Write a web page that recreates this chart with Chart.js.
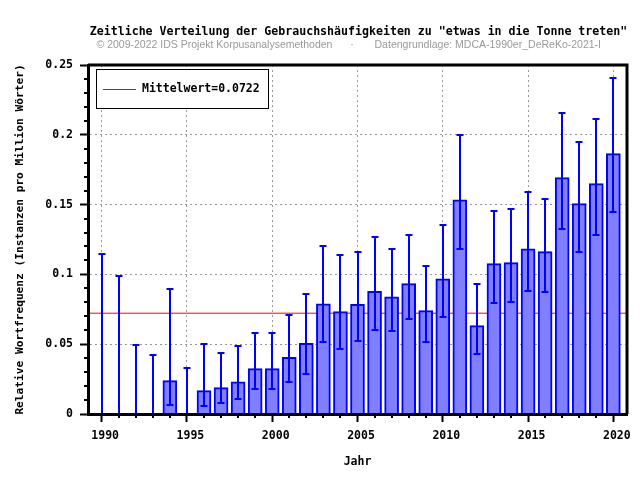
<!DOCTYPE html>
<html>
<head>
<meta charset="utf-8">
<script src="https://cdn.jsdelivr.net/npm/chart.js@4"></script>
<style>
  html, body { margin: 0; padding: 0; background: #fff; }
</style>
</head>
<body>
<canvas id="chart" width="640" height="480"></canvas>
<script>
// data
const years = [1990, 1991, 1992, 1993, 1994, 1995, 1996, 1997, 1998, 1999, 2000,
  2001, 2002, 2003, 2004, 2005, 2006, 2007, 2008, 2009, 2010,
  2011, 2012, 2013, 2014, 2015, 2016, 2017, 2018, 2019, 2020];
const frequency = [0, 0, 0, 0, 0.0239, 0, 0.0167, 0.0189, 0.0231, 0.0325, 0.0325,
  0.0406, 0.0506, 0.0790, 0.0733, 0.0786, 0.0879, 0.0840, 0.0934, 0.0740, 0.0969,
  0.1535, 0.0633, 0.1077, 0.1084, 0.1184, 0.1163, 0.1693, 0.1507, 0.1650, 0.1865];
const upper = [0.1144, 0.0990, 0.0497, 0.0425, 0.0898, 0.0332, 0.0504, 0.0439, 0.0489, 0.0582, 0.0582,
  0.0711, 0.0862, 0.1206, 0.1141, 0.1160, 0.1270, 0.1182, 0.1285, 0.1060, 0.1356,
  0.2001, 0.0934, 0.1456, 0.1470, 0.1593, 0.1542, 0.2158, 0.1951, 0.2115, 0.2409];
const lower = [0, 0, 0, 0, 0.0067, 0, 0.0060, 0.0081, 0.0110, 0.0181, 0.0181,
  0.0232, 0.0289, 0.0518, 0.0468, 0.0525, 0.0604, 0.0597, 0.0683, 0.0518, 0.0697,
  0.1182, 0.0432, 0.0797, 0.0804, 0.0883, 0.0876, 0.1328, 0.1163, 0.1285, 0.1449];
const meanValue = 0.0722;
const xTicks = [1990, 1995, 2000, 2005, 2010, 2015, 2020];
const yTicks = [0, 0.05, 0.1, 0.15, 0.2, 0.25];

const xMin = 1989.2, xMax = 2020.8;
const mono = 'DejaVu Sans Mono';

const titleText = 'Zeitliche Verteilung der Gebrauchshäufigkeiten zu "etwas in die Tonne treten"';
const creditLeft = '© 2009-2022 IDS Projekt Korpusanalysemethoden';
const creditRight = 'Datengrundlage: MDCA-1990er_DeReKo-2021-I';
const legendText = 'Mittelwert=' + meanValue;

const extras = {
  id: 'extras',
  afterDatasetsDraw(chart) {
    const { ctx, scales: { x, y } } = chart;
    ctx.save();
    ctx.strokeStyle = '#0000ff';
    ctx.lineWidth = 2;
    years.forEach((yr, i) => {
      const px = Math.round(x.getPixelForValue(yr));
      const top = Math.round(y.getPixelForValue(upper[i]));
      const bot = Math.round(y.getPixelForValue(lower[i]));
      ctx.beginPath();
      ctx.moveTo(px, top); ctx.lineTo(px, bot);
      ctx.moveTo(px - 3.5, top); ctx.lineTo(px + 3.5, top);
      ctx.moveTo(px - 3.5, bot); ctx.lineTo(px + 3.5, bot);
      ctx.stroke();
    });
    ctx.restore();
  },
  afterDraw(chart) {
    const { ctx, chartArea: a, scales: { x, y } } = chart;
    ctx.save();
    // top and right frame
    ctx.strokeStyle = '#000';
    ctx.lineWidth = 3;
    ctx.beginPath();
    ctx.moveTo(a.left, a.top); ctx.lineTo(a.right, a.top); ctx.lineTo(a.right, a.bottom);
    ctx.stroke();

    // minor ticks
    ctx.lineWidth = 2;
    ctx.beginPath();
    years.forEach(yr => {
      if (yr % 5 === 0) return;
      const px = Math.round(x.getPixelForValue(yr));
      ctx.moveTo(px, a.bottom); ctx.lineTo(px, a.bottom + 4);
    });
    for (let k = 1; k < 25; k++) {
      if (k % 5 === 0) continue;
      const py = Math.round(y.getPixelForValue(k / 100));
      ctx.moveTo(a.left - 4, py); ctx.lineTo(a.left, py);
    }
    ctx.stroke();

    // legend
    ctx.lineWidth = 1;
    ctx.fillStyle = '#fff';
    ctx.fillRect(96.5, 69.5, 172, 39);
    ctx.strokeRect(96.5, 69.5, 172, 39);
    ctx.strokeStyle = '#ff0000';
    ctx.beginPath();
    ctx.moveTo(103, 89.5); ctx.lineTo(136, 89.5);
    ctx.stroke();
    ctx.fillStyle = '#000';
    ctx.font = 'bold 11.5px "' + mono + '"';
    ctx.textBaseline = 'middle';
    ctx.textAlign = 'left';
    ctx.fillText(legendText, 142, 89);

    // title and credit line
    ctx.font = 'bold 11.6px "' + mono + '"';
    ctx.textAlign = 'center';
    ctx.fillText(titleText, 358.5, 32);
    ctx.fillStyle = '#999';
    ctx.font = '10.5px "Liberation Sans"';
    ctx.textAlign = 'left';
    ctx.fillText(creditLeft, 96.5, 45);
    ctx.textAlign = 'center';
    ctx.fillText('·', 352, 45);
    ctx.textAlign = 'right';
    ctx.fillText(creditRight, 601, 45);
    ctx.restore();
  }
};

const tickFont = { family: mono, size: 11.5, weight: 'bold' };

new Chart(document.getElementById('chart'), {
  type: 'bar',
  data: {
    datasets: [
      {
        type: 'bar',
        label: 'Relative Wortfrequenz',
        data: years.map((yr, i) => ({ x: yr, y: frequency[i] })),
        backgroundColor: '#8080ff',
        borderColor: '#0000ff',
        borderWidth: 2,
        barThickness: 14,
        order: 1
      },
      {
        type: 'line',
        label: legendText,
        data: [{ x: xMin, y: meanValue }, { x: xMax, y: meanValue }],
        borderColor: '#ff0000',
        borderWidth: 1,
        pointRadius: 0,
        order: 2
      }
    ]
  },
  options: {
    responsive: false,
    animation: false,
    layout: { padding: { top: 65, right: 13, left: 0, bottom: 0 } },
    plugins: {
      legend: { display: false },
      tooltip: { enabled: false }
    },
    scales: {
      x: {
        type: 'linear',
        min: xMin,
        max: xMax,
        offset: false,
        afterBuildTicks: s => { s.ticks = xTicks.map(v => ({ value: v })); },
        afterFit: s => { s.height = 66; },
        grid: { offset: false, color: '#999', lineWidth: 1, tickLength: 8, tickColor: '#000', tickWidth: 2 },
        border: { display: true, color: '#000', width: 3, dash: [2, 3], z: 1 },
        ticks: { font: tickFont, color: '#000', padding: 7, labelOffset: 3.5, maxRotation: 0, autoSkip: false, callback: v => String(v) },
        title: { display: true, text: 'Jahr', font: tickFont, color: '#000', padding: { top: 4, bottom: 11 } }
      },
      y: {
        min: 0,
        max: 0.25,
        afterBuildTicks: s => { s.ticks = yTicks.map(v => ({ value: v })); },
        afterFit: s => { s.width = 88; },
        grid: { color: '#999', lineWidth: 1, tickLength: 8, tickColor: '#000', tickWidth: 2 },
        border: { display: true, color: '#000', width: 3, dash: [2, 3], z: 1 },
        ticks: { font: tickFont, color: '#000', padding: 7, callback: v => String(v) },
        title: {
          display: true,
          text: 'Relative Wortfrequenz (Instanzen pro Million Wörter)',
          font: { family: mono, size: 11.2, weight: 'bold' },
          color: '#000',
          padding: { top: 13, bottom: 0 }
        }
      }
    }
  },
  plugins: [extras]
});
</script>
</body>
</html>
